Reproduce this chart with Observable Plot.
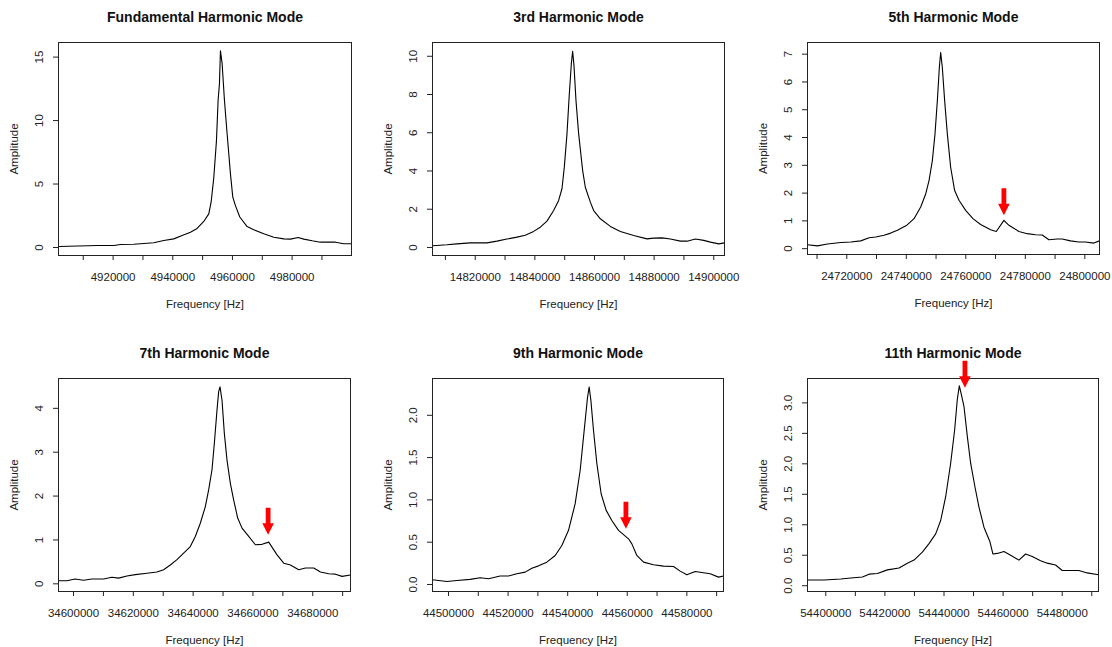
<!DOCTYPE html>
<html>
<head>
<meta charset="utf-8">
<script src="https://cdn.jsdelivr.net/npm/d3@7"></script>
<script src="https://cdn.jsdelivr.net/npm/@observablehq/plot@0.6"></script>
<style>
  html, body { margin: 0; padding: 0; background: #fff; }
  #chart { position: relative; width: 1112px; height: 647px; background: #fff; overflow: hidden; }
  #chart svg { position: absolute; }
</style>
</head>
<body>
<div id="chart"></div>
<script>
// ---------- DATA ----------
const titles = ["Fundamental Harmonic Mode", "3rd Harmonic Mode", "5th Harmonic Mode",
                "7th Harmonic Mode", "9th Harmonic Mode", "11th Harmonic Mode"];
const xAxisLabel = "Frequency [Hz]";
const yAxisLabel = "Amplitude";

const freq1 = [4901788,4914637,4920223,4922458,4926927,4930279,4933631,4936983,4940335,4943128,4945921,4948156,4950391,4952067,4952849,4953743,4954637,4955195,4955642,4955978,4956536,4957318,4958212,4959330,4960112,4961006,4962458,4964916,4967151,4970503,4973855,4977207,4979442,4982011,4983911,4986704,4989497,4994525,4997318,4999900];
const amp1  = [0.08,0.16,0.16,0.24,0.26,0.32,0.37,0.55,0.68,0.95,1.2,1.5,2.05,2.65,3.57,5.5,8.4,11.6,12.9,15.5,14.5,11.6,8.96,5.8,3.97,3.3,2.4,1.65,1.4,1.08,0.81,0.68,0.66,0.79,0.66,0.53,0.42,0.42,0.29,0.29];

const freq2 = [14805678,14810489,14813846,14818322,14823916,14827273,14830630,14833986,14836784,14839581,14841819,14844056,14846294,14847973,14849091,14849874,14850770,14851553,14852224,14852672,14853119,14853790,14854686,14856029,14856924,14858602,14859721,14861959,14865315,14868672,14873148,14877623,14879861,14882658,14885456,14888812,14891050,14893847,14896645,14898882,14901680,14903600];
const amp2  = [0.09,0.14,0.19,0.24,0.24,0.33,0.44,0.54,0.64,0.84,1.06,1.38,1.93,2.46,3.07,4.2,5.94,8.03,9.6,10.26,9.51,7.68,5.94,4.02,3.15,2.37,1.93,1.5,1.1,0.84,0.63,0.45,0.49,0.5,0.44,0.33,0.33,0.44,0.37,0.28,0.19,0.24];

const freq3 = [24706800,24710154,24713510,24717986,24721343,24724699,24727497,24729734,24732532,24734769,24737007,24740028,24742602,24744840,24746518,24747637,24748756,24749651,24750434,24751105,24751553,24752112,24752896,24753791,24754910,24756252,24757707,24759945,24762406,24764980,24768336,24770238,24772812,24774490,24777847,24780644,24783442,24785679,24787917,24790714,24792393,24795190,24797988,24800226,24803023,24804925];
const amp3  = [0.14,0.1,0.17,0.22,0.24,0.28,0.39,0.42,0.48,0.56,0.66,0.83,1.08,1.5,1.97,2.45,3.17,4.13,5.32,6.52,7.06,6.52,5.32,4.13,2.93,2.09,1.74,1.38,1.08,0.87,0.68,0.62,1.02,0.84,0.62,0.54,0.5,0.49,0.32,0.35,0.35,0.28,0.24,0.24,0.2,0.28];

const freq4 = [34594990,34597768,34600558,34603347,34606137,34610042,34612832,34615063,34617853,34620642,34624548,34627895,34630127,34632358,34634590,34636821,34639053,34640727,34642400,34644074,34645190,34646306,34647087,34647979,34648537,34648984,34649653,34650434,34651327,34652443,34653558,34654897,34656348,34658580,34660811,34663043,34665274,34668064,34670295,34672527,34675317,34677548,34680338,34682569,34685359,34687590,34689822,34692600];
const amp4  = [0.07,0.07,0.11,0.08,0.11,0.11,0.15,0.13,0.18,0.21,0.24,0.27,0.32,0.43,0.55,0.7,0.85,1.08,1.38,1.76,2.14,2.6,3.2,3.96,4.38,4.49,4.19,3.43,2.82,2.29,1.91,1.5,1.27,1.08,0.89,0.9,0.95,0.66,0.47,0.43,0.32,0.36,0.36,0.27,0.23,0.22,0.17,0.2];

const freq5 = [44494640,44499441,44502797,44507273,44510630,44513427,44517343,44520140,44522937,44525735,44527973,44530210,44533007,44535805,44538043,44540280,44542518,44544197,44545651,44546658,44547218,44547777,44548672,44549791,44551246,44552924,44554826,44557064,44560421,44561540,44563218,44565456,44568812,44572169,44575526,44577764,44580000,44582798,44585596,44587833,44590631,44592300];
const amp5  = [0.055,0.035,0.047,0.06,0.08,0.067,0.1,0.1,0.126,0.146,0.193,0.22,0.264,0.343,0.46,0.64,0.955,1.35,1.86,2.21,2.335,2.18,1.82,1.43,1.07,0.876,0.757,0.64,0.54,0.48,0.343,0.264,0.233,0.217,0.213,0.158,0.114,0.154,0.138,0.126,0.087,0.1];

const freq6 = [54393820,54399437,54405071,54408451,54412395,54414648,54417465,54420846,54424790,54427607,54429860,54432677,54434931,54437184,54438875,54440565,54442255,54443607,54444509,54445185,54445861,54446762,54447889,54449016,54450481,54451833,54453523,54455551,54456565,54458030,54460284,54462537,54465354,54467608,54469862,54472679,54474932,54477749,54480003,54482820,54485637,54488454,54492280];
const amp6  = [0.094,0.094,0.11,0.127,0.143,0.19,0.2,0.26,0.29,0.37,0.42,0.55,0.69,0.85,1.07,1.46,2.01,2.56,3.06,3.28,3.14,2.94,2.45,2.01,1.62,1.29,0.96,0.72,0.52,0.53,0.56,0.5,0.42,0.52,0.48,0.41,0.37,0.34,0.25,0.25,0.25,0.21,0.18];

const xTicks1 = [4910000,4920000,4930000,4940000,4950000,4960000,4970000,4980000,4990000];
const xLabels1 = [4920000,4940000,4960000,4980000];
const xTicks2 = [14810000,14820000,14830000,14840000,14850000,14860000,14870000,14880000,14890000,14900000];
const xLabels2 = [14820000,14840000,14860000,14880000,14900000];
const xTicks3 = [24710000,24720000,24730000,24740000,24750000,24760000,24770000,24780000,24790000,24800000];
const xLabels3 = [24720000,24740000,24760000,24780000,24800000];
const xTicks4 = [34600000,34610000,34620000,34630000,34640000,34650000,34660000,34670000,34680000,34690000];
const xLabels4 = [34600000,34620000,34640000,34660000,34680000];
const xTicks5 = [44500000,44510000,44520000,44530000,44540000,44550000,44560000,44570000,44580000,44590000];
const xLabels5 = [44500000,44520000,44540000,44560000,44580000];
const xTicks6 = [54400000,54410000,54420000,54430000,54440000,54450000,54460000,54470000,54480000,54490000];
const xLabels6 = [54400000,54420000,54440000,54460000,54480000];

const yTicks1 = [0,5,10,15];          const yLabels1 = ["0","5","10","15"];
const yTicks2 = [0,2,4,6,8,10];       const yLabels2 = ["0","2","4","6","8","10"];
const yTicks3 = [0,1,2,3,4,5,6,7];    const yLabels3 = ["0","1","2","3","4","5","6","7"];
const yTicks4 = [0,1,2,3,4];          const yLabels4 = ["0","1","2","3","4"];
const yTicks5 = [0,0.5,1,1.5,2];      const yLabels5 = ["0.0","0.5","1.0","1.5","2.0"];
const yTicks6 = [0,0.5,1,1.5,2,2.5,3]; const yLabels6 = ["0.0","0.5","1.0","1.5","2.0","2.5","3.0"];

// axis ranges
const xDomains = [[4901700,4999900],[14805667,14903600],[24706800,24804930],[34594980,34692620],[44494630,44592300],[54393810,54492280]];
const yDomains = [[-0.63,16.15],[-0.42,10.72],[-0.21,7.42],[-0.175,4.68],[-0.083,2.435],[-0.095,3.4]];

// red arrow annotations (frequency, amplitude at arrow tip)
const arrowFreq = [null, null, 24772800, 34665070, 44559550, 54447090];
const arrowAmp  = [null, null, 1.2, 1.12, 0.66, 3.25];

// ---------- LAYOUT ----------
const layout = [
  {left: 0,   top: 0,   w: 370, h: 320, ml: 58, mr: 19, mt: 42, mb: 65},
  {left: 370, top: 0,   w: 370, h: 320, ml: 62, mr: 16, mt: 42, mb: 65},
  {left: 740, top: 0,   w: 372, h: 320, ml: 67, mr: 13, mt: 42, mb: 66},
  {left: 0,   top: 320, w: 370, h: 327, ml: 58, mr: 20, mt: 58, mb: 56},
  {left: 370, top: 320, w: 370, h: 327, ml: 62, mr: 17, mt: 58, mb: 56},
  {left: 740, top: 320, w: 372, h: 327, ml: 67, mr: 14, mt: 58, mb: 56}
];

const freqs = [freq1, freq2, freq3, freq4, freq5, freq6];
const amps = [amp1, amp2, amp3, amp4, amp5, amp6];
const xTicksAll = [xTicks1, xTicks2, xTicks3, xTicks4, xTicks5, xTicks6];
const xLabelsAll = [xLabels1, xLabels2, xLabels3, xLabels4, xLabels5, xLabels6];
const yTicksAll = [yTicks1, yTicks2, yTicks3, yTicks4, yTicks5, yTicks6];
const yLabelsAll = [yLabels1, yLabels2, yLabels3, yLabels4, yLabels5, yLabels6];

// filled arrow glyph, tip at the data point
const arrowSymbol = {
  draw(ctx) {
    ctx.moveTo(-2.4, -27);
    ctx.lineTo(2.4, -27);
    ctx.lineTo(2.4, -11.5);
    ctx.lineTo(5.8, -11.5);
    ctx.lineTo(0, 0);
    ctx.lineTo(-5.8, -11.5);
    ctx.lineTo(-2.4, -11.5);
    ctx.closePath();
  }
};

const chart = document.getElementById("chart");
const FONT = "'Liberation Sans', Arial, Helvetica, sans-serif";

for (let i = 0; i < 6; i++) {
  const L = layout[i];
  const data = freqs[i].map((f, j) => ({f, a: amps[i][j]}));
  const labSet = new Set(xLabelsAll[i]);
  const marks = [
    Plot.line(data, {x: "f", y: "a", stroke: "#000", strokeWidth: 1.1}),
    Plot.frame({stroke: "#222", strokeWidth: 1}),
    Plot.axisX({ticks: xTicksAll[i], tickSize: 5, tickPadding: 12.5, label: null,
                tickFormat: d => labSet.has(d) ? String(d) : "", fill: "#222", stroke: "#222"}),
    Plot.axisY({ticks: yTicksAll[i], tickSize: 5, label: null, tickFormat: () => "", stroke: "#222"}),
    Plot.text(yTicksAll[i], {y: d => d, text: (d, j) => yLabelsAll[i][j], frameAnchor: "left",
                dx: -19.5, rotate: -90, textAnchor: "middle", lineAnchor: "middle", fill: "#222"}),
    Plot.text([yAxisLabel], {frameAnchor: "left", dx: -44, rotate: -90, textAnchor: "middle",
                lineAnchor: "middle", fill: "#222"}),
    Plot.text([xAxisLabel], {frameAnchor: "bottom", dy: 49, textAnchor: "middle",
                lineAnchor: "middle", fill: "#222"}),
    Plot.text([titles[i]], {frameAnchor: "top", dy: -25, fontWeight: "bold", fontSize: 14,
                lineAnchor: "middle", fill: "#111"})
  ];
  if (arrowFreq[i] != null) {
    marks.push(Plot.dot([{f: arrowFreq[i], a: arrowAmp[i]}],
      {x: "f", y: "a", symbol: arrowSymbol, fill: "#ff0000", stroke: "none", r: 5}));
  }
  const svg = Plot.plot({
    width: L.w, height: L.h,
    marginLeft: L.ml, marginRight: L.mr, marginTop: L.mt, marginBottom: L.mb,
    x: {type: "linear", domain: xDomains[i]},
    y: {type: "linear", domain: yDomains[i]},
    style: {fontFamily: FONT, fontSize: "11.5px", color: "#222", background: "transparent", overflow: "visible"},
    marks
  });
  svg.style.left = L.left + "px";
  svg.style.top = L.top + "px";
  chart.appendChild(svg);
}
</script>
</body>
</html>
